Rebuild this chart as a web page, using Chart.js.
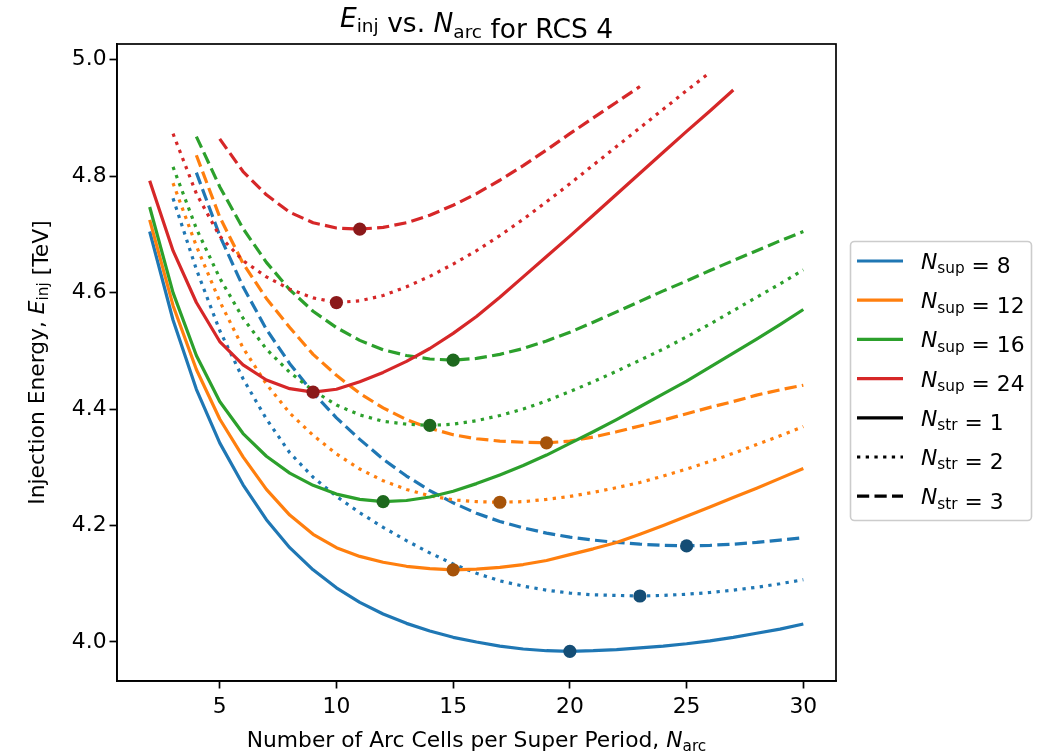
<!DOCTYPE html>
<html>
<head>
<meta charset="utf-8">
<script src="https://cdn.jsdelivr.net/npm/chart.js@4.4.0/dist/chart.umd.min.js"></script>
<style>
    html, body { margin: 0; padding: 0; background: #fff; }
    #wrap { position: relative; width: 1043px; height: 755px; }
    #chart { position: absolute; left: 0; top: 0; }
    #overlay { position: absolute; left: 0; top: 0; font-family: 'DejaVu Sans', sans-serif; white-space: pre; }
</style>
</head>
<body>
<div id="wrap">
    <canvas id="chart" width="1043" height="755"></canvas>
    <svg id="overlay" width="1043" height="755" xmlns="http://www.w3.org/2000/svg"></svg>
</div>
<script>
// ==================== DATA ====================
const N_ARC = [2, 3, 4, 5, 6, 7, 8, 9, 10, 11, 12, 13, 14, 15, 16, 17, 18, 19, 20, 21, 22, 23, 24, 25, 26, 27, 28, 29, 30];
const N_SUP = [8, 12, 16, 24];
const N_STR = [1, 2, 3];

// Injection energy [TeV] at each N_ARC (null = not computed)
const E_SUP8_STR1 = [4.705, 4.553, 4.434, 4.342, 4.270, 4.210, 4.162, 4.124, 4.093, 4.068, 4.048, 4.032, 4.019, 4.008, 4.000, 3.993, 3.988, 3.985, 3.984, 3.985, 3.987, 3.990, 3.993, 3.997, 4.002, 4.008, 4.015, 4.022, 4.031];
const E_SUP8_STR2 = [null, 4.762, 4.640, 4.535, 4.452, 4.383, 4.325, 4.283, 4.250, 4.222, 4.197, 4.174, 4.153, 4.134, 4.118, 4.105, 4.096, 4.089, 4.084, 4.081, 4.080, 4.079, 4.080, 4.082, 4.085, 4.089, 4.094, 4.100, 4.107];
const E_SUP8_STR3 = [null, null, 4.806, 4.698, 4.610, 4.537, 4.478, 4.428, 4.385, 4.348, 4.314, 4.285, 4.260, 4.239, 4.221, 4.207, 4.196, 4.187, 4.180, 4.175, 4.171, 4.168, 4.166, 4.165, 4.166, 4.168, 4.171, 4.175, 4.179];

const E_SUP12_STR1 = [4.725, 4.578, 4.468, 4.383, 4.318, 4.262, 4.218, 4.185, 4.162, 4.147, 4.137, 4.130, 4.126, 4.124, 4.125, 4.128, 4.133, 4.140, 4.150, 4.160, 4.171, 4.185, 4.200, 4.216, 4.232, 4.248, 4.264, 4.281, 4.298];
const E_SUP12_STR2 = [null, 4.788, 4.680, 4.585, 4.505, 4.443, 4.393, 4.355, 4.323, 4.297, 4.277, 4.262, 4.251, 4.244, 4.241, 4.240, 4.241, 4.245, 4.250, 4.257, 4.265, 4.274, 4.285, 4.297, 4.310, 4.324, 4.339, 4.354, 4.370];
const E_SUP12_STR3 = [null, null, 4.836, 4.730, 4.650, 4.590, 4.540, 4.494, 4.458, 4.427, 4.402, 4.382, 4.367, 4.356, 4.349, 4.345, 4.343, 4.342, 4.345, 4.352, 4.361, 4.371, 4.381, 4.392, 4.403, 4.413, 4.424, 4.433, 4.441];

const E_SUP16_STR1 = [4.747, 4.600, 4.492, 4.413, 4.358, 4.319, 4.290, 4.269, 4.254, 4.245, 4.241, 4.243, 4.249, 4.259, 4.272, 4.287, 4.303, 4.321, 4.341, 4.361, 4.382, 4.404, 4.426, 4.448, 4.472, 4.496, 4.520, 4.545, 4.571];
const E_SUP16_STR2 = [null, 4.816, 4.710, 4.625, 4.556, 4.503, 4.463, 4.432, 4.407, 4.390, 4.379, 4.374, 4.372, 4.374, 4.380, 4.389, 4.400, 4.414, 4.430, 4.447, 4.465, 4.484, 4.503, 4.524, 4.546, 4.569, 4.592, 4.615, 4.639];
const E_SUP16_STR3 = [null, null, 4.868, 4.782, 4.710, 4.652, 4.605, 4.568, 4.540, 4.518, 4.502, 4.492, 4.486, 4.484, 4.487, 4.494, 4.504, 4.517, 4.532, 4.549, 4.567, 4.585, 4.603, 4.620, 4.638, 4.655, 4.672, 4.689, 4.705];

const E_SUP24_STR1 = [4.792, 4.672, 4.583, 4.516, 4.476, 4.450, 4.435, 4.429, 4.434, 4.447, 4.463, 4.482, 4.504, 4.530, 4.559, 4.592, 4.627, 4.662, 4.697, 4.733, 4.769, 4.805, 4.841, 4.877, 4.912, 4.948, null, null, null];
const E_SUP24_STR2 = [null, 4.873, 4.770, 4.697, 4.655, 4.627, 4.606, 4.591, 4.583, 4.586, 4.595, 4.610, 4.628, 4.649, 4.672, 4.698, 4.726, 4.756, 4.787, 4.819, 4.851, 4.883, 4.915, 4.947, 4.978, null, null, null, null];
const E_SUP24_STR3 = [null, null, null, 4.864, 4.808, 4.768, 4.738, 4.720, 4.711, 4.709, 4.712, 4.720, 4.733, 4.750, 4.770, 4.793, 4.818, 4.845, 4.873, 4.900, 4.927, 4.954, null, null, null, null, null, null, null];

const SERIES = [
    [E_SUP8_STR1, E_SUP8_STR2, E_SUP8_STR3],
    [E_SUP12_STR1, E_SUP12_STR2, E_SUP12_STR3],
    [E_SUP16_STR1, E_SUP16_STR2, E_SUP16_STR3],
    [E_SUP24_STR1, E_SUP24_STR2, E_SUP24_STR3]
];

// minimum of each curve, same order as SERIES (sup, then str)
const MIN_N_ARC = [20, 23, 25, 15, 17, 19, 12, 14, 15, 9, 10, 11];
const MIN_E_INJ = [3.984, 4.079, 4.165, 4.124, 4.240, 4.342, 4.241, 4.372, 4.484, 4.429, 4.583, 4.709];

const X_TICKS = [5, 10, 15, 20, 25, 30];
const Y_TICKS = [4.0, 4.2, 4.4, 4.6, 4.8, 5.0];

// ==================== STYLE ====================
const LINE_COLORS = ['#1f77b4', '#ff7f0e', '#2ca02c', '#d62728'];
const MARKER_COLORS = ['#144d75', '#a65309', '#1d681d', '#8b191a'];
const DASHES = [[], [3.3, 5.4], [12.2, 5.3]];
const LINE_W = 3.2;
const FONT_PX = 21.8;
const TITLE_PX = 26.5;

const AREA = { left: 117, top: 44, right: 836, bottom: 681 };
const W = 1043, H = 755;

Chart.defaults.font.family = "'DejaVu Sans', sans-serif";
Chart.defaults.color = '#000';

// ==================== DATASETS ====================
const datasets = [];
N_SUP.forEach((sup, i) => {
    N_STR.forEach((str, j) => {
        const values = SERIES[i][j];
        const points = N_ARC
            .map((n, k) => ({ x: n, y: values[k] }))
            .filter(p => p.y !== null);
        datasets.push({
            type: 'line',
            label: `Nsup=${sup}, Nstr=${str}`,
            data: points,
            borderColor: LINE_COLORS[i],
            borderWidth: LINE_W,
            borderDash: DASHES[j],
            borderJoinStyle: 'round',
            borderCapStyle: 'butt',
            pointRadius: 0,
            fill: false,
            tension: 0,
            order: 100 - (i * 3 + j)
        });
    });
});

MIN_N_ARC.forEach((n, k) => {
    const i = Math.floor(k / 3);
    datasets.push({
        type: 'scatter',
        label: 'min',
        data: [{ x: n, y: MIN_E_INJ[k] }],
        pointRadius: 6.6,
        pointHoverRadius: 6.6,
        backgroundColor: MARKER_COLORS[i],
        borderWidth: 0,
        order: 0
    });
});

// full frame round the axes, drawn above the lines like matplotlib spines
const frame = {
    id: 'frame',
    afterDraw(chart) {
        const { ctx, chartArea: a } = chart;
        ctx.save();
        ctx.strokeStyle = '#000';
        ctx.lineWidth = 1.7;
        ctx.strokeRect(a.left, a.top, a.right - a.left, a.bottom - a.top);
        ctx.restore();
    }
};

const axisStyle = {
    grid: { display: true, drawOnChartArea: false, drawTicks: true, tickLength: 7.5, tickWidth: 1.7, tickColor: '#000' },
    border: { display: true, color: '#000', width: 1.7 }
};

new Chart(document.getElementById('chart'), {
    type: 'line',
    data: { datasets },
    options: {
        responsive: false,
        animation: false,
        devicePixelRatio: 1,
        layout: { padding: { left: 0, top: AREA.top, right: W - AREA.right, bottom: 0 } },
        plugins: { legend: { display: false }, tooltip: { enabled: false }, title: { display: false } },
        scales: {
            x: {
                type: 'linear',
                min: 0.6,
                max: 31.4,
                afterBuildTicks: s => { s.ticks = X_TICKS.map(v => ({ value: v })); },
                afterFit: s => { s.height = H - AREA.bottom; },
                ticks: { font: { size: FONT_PX }, padding: 6, maxRotation: 0, autoSkip: false, callback: v => String(v) },
                ...axisStyle
            },
            y: {
                type: 'linear',
                min: 3.933,
                max: 5.027,
                afterBuildTicks: s => { s.ticks = Y_TICKS.map(v => ({ value: v })); },
                afterFit: s => { s.width = AREA.left; },
                ticks: { font: { size: FONT_PX }, padding: 3, autoSkip: false, callback: v => v.toFixed(1) },
                ...axisStyle
            }
        }
    },
    plugins: [frame]
});

// ==================== TEXT & LEGEND (svg, for the subscripts) ====================
const svg = document.getElementById('overlay');
const SUB = 0.7;

function mathLabel(sym, sub, size) {
    const s = (size * SUB).toFixed(1);
    const d = (size * 0.2).toFixed(1);
    return `<tspan font-style="italic">${sym}</tspan><tspan font-size="${s}" dy="${d}">${sub}</tspan><tspan dy="-${d}"></tspan>`;
}

const cx = (AREA.left + AREA.right) / 2;
const cy = (AREA.top + AREA.bottom) / 2;

let html = '';
html += `<text x="${cx}" y="27" font-size="${TITLE_PX}" text-anchor="middle">` +
    mathLabel('E', 'inj', TITLE_PX) + ' vs. ' + mathLabel('N', 'arc', TITLE_PX) + ' for RCS 4</text>';
html += `<text x="${cx}" y="747" font-size="${FONT_PX}" text-anchor="middle">Number of Arc Cells per Super Period, ` +
    mathLabel('N', 'arc', FONT_PX) + '</text>';
html += `<text transform="translate(44,${cy}) rotate(-90)" font-size="${FONT_PX}" text-anchor="middle">Injection Energy, ` +
    mathLabel('E', 'inj', FONT_PX) + ' [TeV]</text>';

// legend
const LEG = { x: 850.5, y: 241.5, w: 181, h: 279, row0: 261, rowStep: 39.2, hx0: 857, hx1: 903, tx: 921 };
html += `<rect x="${LEG.x}" y="${LEG.y}" width="${LEG.w}" height="${LEG.h}" rx="4" ry="4" fill="#fff" fill-opacity="0.8" stroke="#cccccc" stroke-width="1.6"/>`;

const entries = [
    ...N_SUP.map((v, i) => ({ sub: 'sup', value: v, color: LINE_COLORS[i], dash: DASHES[0] })),
    ...N_STR.map((v, j) => ({ sub: 'str', value: v, color: '#000', dash: DASHES[j] }))
];
entries.forEach((e, r) => {
    const y = LEG.row0 + r * LEG.rowStep;
    const dash = e.dash.length ? `stroke-dasharray="${e.dash.join(' ')}"` : '';
    html += `<line x1="${LEG.hx0}" y1="${y}" x2="${LEG.hx1}" y2="${y}" stroke="${e.color}" stroke-width="${LINE_W}" ${dash}/>`;
    html += `<text x="${LEG.tx}" y="${y + 8}" font-size="${FONT_PX}">` + mathLabel('N', e.sub, FONT_PX) + ` = ${e.value}</text>`;
});

svg.innerHTML = html;
</script>
</body>
</html>
